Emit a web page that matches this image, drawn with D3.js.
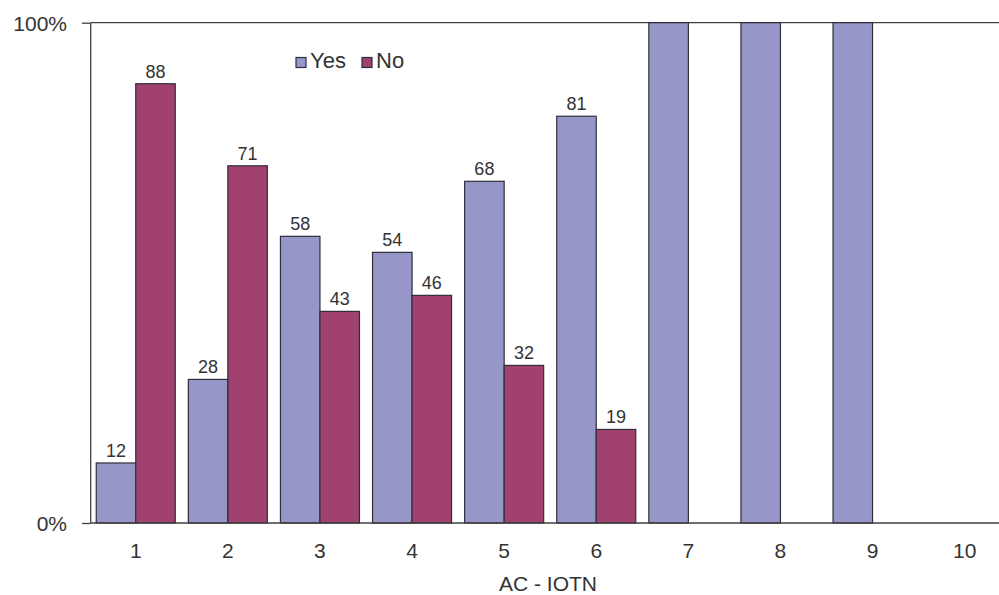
<!DOCTYPE html>
<html>
<head>
<meta charset="utf-8">
<script src="https://cdn.jsdelivr.net/npm/d3@7"></script>
<style>
  html, body { margin: 0; padding: 0; background: #fff; }
  svg { display: block; font-family: "Liberation Sans", Arial, sans-serif; }
</style>
</head>
<body>
<svg id="chart" width="999" height="595"></svg>
<script>
// ---- data ----
const categories = ["1", "2", "3", "4", "5", "6", "7", "8", "9", "10"];
const seriesNames = ["Yes", "No"];
// bar heights (percent)
const yesValues = [12, 28.7, 57.3, 54.1, 68.3, 81.3, 100, 100, 100, null];
const noValues  = [87.8, 71.4, 42.3, 45.5, 31.5, 18.7, 0, 0, 0, null];
// data labels printed above the bars
const yesLabels = ["12", "28", "58", "54", "68", "81", "", "", "", ""];
const noLabels  = ["88", "71", "43", "46", "32", "19", "", "", "", ""];
const yTickValues = [0, 100];
const yTickLabels = ["0%", "100%"];
const xAxisTitle = "AC - IOTN";

const colors = { Yes: "#9696c8", No: "#a1416f" };
const textColor = "#333333";
const lineColor = "#404040";

const svg = d3.select("#chart");
const chartW = 999;
const plotLeft = 90.7, plotTop = 22.7, plotBottom = 523;

const x0 = d3.scaleBand()
  .domain(categories)
  .range([89.7, 1010.7])
  .paddingInner(0.142)
  .paddingOuter(0.071);

const x1 = d3.scaleBand()
  .domain(seriesNames)
  .range([0, x0.bandwidth()]);

const y = d3.scaleLinear().domain([0, 100]).range([plotBottom, plotTop]);

const rows = categories.map((c, i) => ({
  cat: c,
  Yes: { value: yesValues[i], label: yesLabels[i] },
  No: { value: noValues[i], label: noLabels[i] }
}));

// top frame line
svg.append("line")
  .attr("x1", plotLeft).attr("x2", chartW).attr("y1", y(100)).attr("y2", y(100))
  .attr("stroke", lineColor).attr("stroke-width", 1.3);

// bars
const groups = svg.append("g").selectAll("g")
  .data(rows).join("g")
  .attr("transform", d => `translate(${x0(d.cat)},0)`);

const items = d => seriesNames.map(k => ({ key: k, value: d[k].value, label: d[k].label }));

groups.selectAll("rect")
  .data(d => items(d).filter(e => e.value != null && e.value > 0))
  .join("rect")
  .attr("x", d => x1(d.key))
  .attr("width", x1.bandwidth())
  .attr("y", d => y(d.value))
  .attr("height", d => y(0) - y(d.value))
  .attr("fill", d => colors[d.key])
  .attr("stroke", "#2e2e3a")
  .attr("stroke-width", 1.2);

// value labels
groups.selectAll("text")
  .data(d => items(d).filter(e => e.label))
  .join("text")
  .attr("x", d => x1(d.key) + x1.bandwidth() / 2)
  .attr("y", d => y(d.value) - 6)
  .attr("text-anchor", "middle")
  .attr("font-size", 18)
  .attr("fill", textColor)
  .text(d => d.label);

// y axis
const yAxis = d3.axisLeft(y)
  .tickValues(yTickValues)
  .tickFormat((d, i) => yTickLabels[i])
  .tickSize(8.7)
  .tickPadding(15);
const gy = svg.append("g").attr("transform", `translate(${plotLeft},0)`).call(yAxis);
gy.select(".domain").attr("stroke", lineColor).attr("stroke-width", 1.3).attr("d", `M0,${plotTop}V${plotBottom}`);
gy.selectAll(".tick line").attr("stroke", lineColor).attr("stroke-width", 1.3);
gy.selectAll(".tick text")
  .attr("font-size", 21)
  .attr("font-family", "Liberation Sans, Arial, sans-serif")
  .attr("fill", textColor)
  .attr("dy", "0.36em");

// x axis
const xAxis = d3.axisBottom(x0).tickSize(0).tickPadding(20);
const gx = svg.append("g").attr("transform", `translate(0,${plotBottom})`).call(xAxis);
gx.select(".domain").remove();
svg.append("line")
  .attr("x1", plotLeft).attr("x2", chartW).attr("y1", plotBottom).attr("y2", plotBottom)
  .attr("stroke", lineColor).attr("stroke-width", 1.3);
gx.selectAll(".tick text")
  .attr("font-size", 21)
  .attr("font-family", "Liberation Sans, Arial, sans-serif")
  .attr("fill", textColor)
  .attr("dy", "0.71em");

// x axis title
svg.append("text")
  .attr("x", 548)
  .attr("y", 591)
  .attr("text-anchor", "middle")
  .attr("font-size", 21)
  .attr("fill", textColor)
  .text(xAxisTitle);

// legend
const legend = svg.append("g");
const legendItems = [
  { key: "Yes", sx: 296, tx: 310 },
  { key: "No", sx: 362, tx: 376 }
];
legend.selectAll("rect").data(legendItems).join("rect")
  .attr("x", d => d.sx).attr("y", 57.5)
  .attr("width", 10).attr("height", 10)
  .attr("fill", d => colors[d.key])
  .attr("stroke", "#2e2e3a").attr("stroke-width", 1.2);
legend.selectAll("text").data(legendItems).join("text")
  .attr("x", d => d.tx).attr("y", 67.7)
  .attr("font-size", 22)
  .attr("fill", textColor)
  .text(d => d.key);
</script>
</body>
</html>
